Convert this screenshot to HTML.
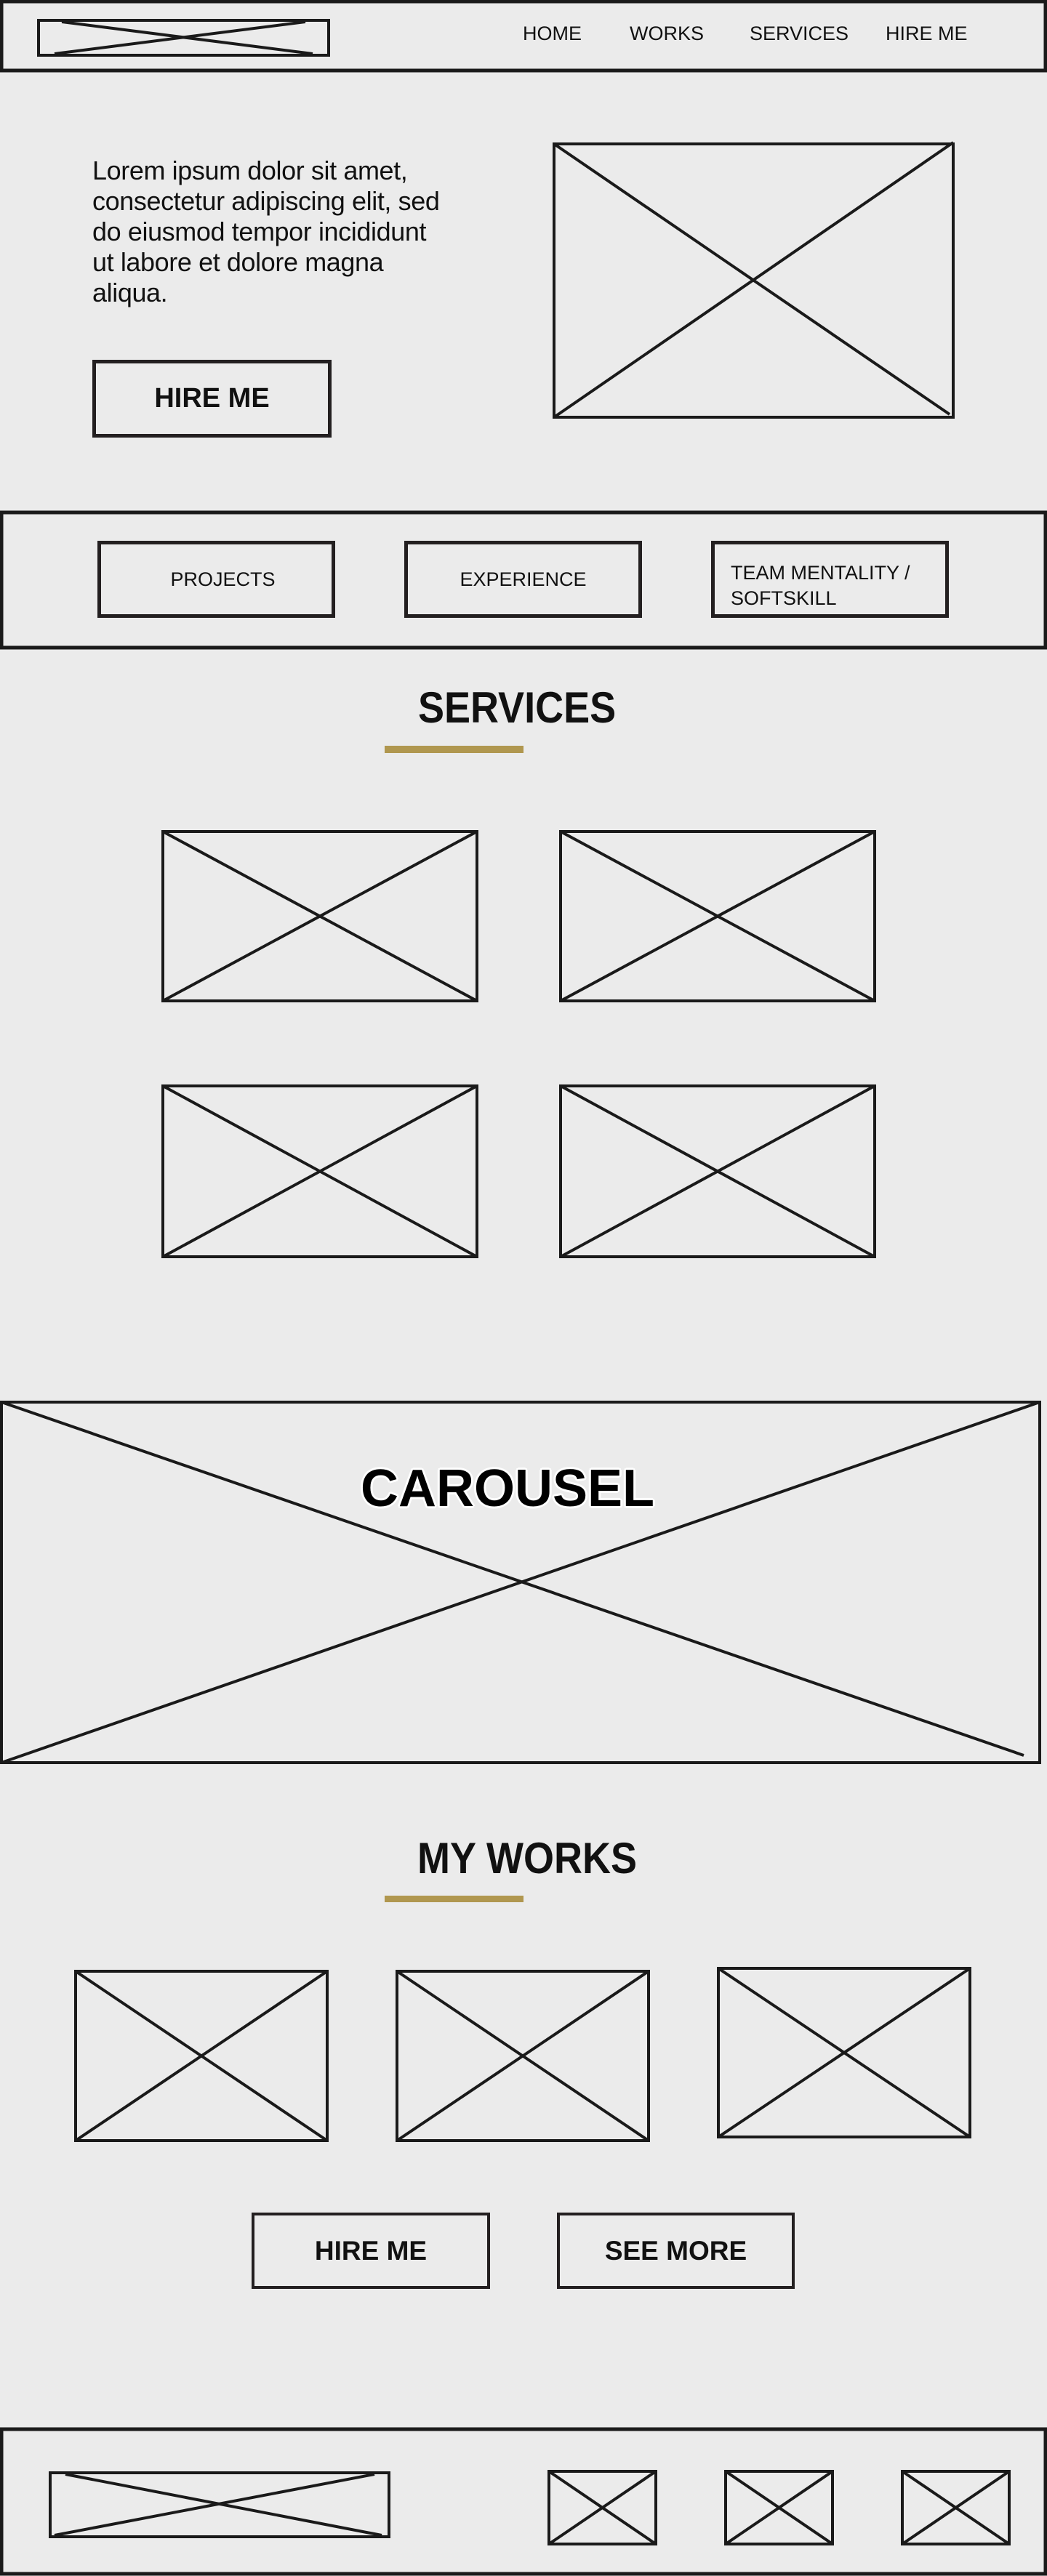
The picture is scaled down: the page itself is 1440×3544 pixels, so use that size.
<!DOCTYPE html>
<html><head><meta charset="utf-8"><style>
html,body{margin:0;padding:0}
body{width:1440px;height:3544px;background:#ebebeb;position:relative;overflow:hidden;font-family:"Liberation Sans",sans-serif;color:#111}
.a{position:absolute;margin:0}
.box{position:absolute;box-sizing:border-box;border:5px solid #231f20}
.t{position:absolute;white-space:nowrap;font-size:27px;line-height:1}
.b{font-weight:bold}
svg{position:absolute;left:0;top:0}
</style></head><body>
<svg width="1440" height="3544" stroke="#1a1a1a" fill="none">
<g stroke-width="5">
<rect x="2" y="2" width="1436" height="95"/>
<rect x="2" y="705" width="1436" height="186"/>
<rect x="2" y="1929" width="1428" height="496" stroke-width="4"/>
<rect x="2" y="3342" width="1436" height="199"/>
</g>
<g stroke-width="4">
<rect x="53" y="28" width="399" height="48"/>
<line x1="85" y1="30" x2="430" y2="74"/><line x1="75" y1="74" x2="420" y2="30"/>
<rect x="762" y="198" width="549" height="376"/>
<line x1="762" y1="198" x2="1306" y2="570"/><line x1="762" y1="574" x2="1311" y2="196"/>
<rect x="224" y="1144" width="432" height="233"/>
<line x1="224" y1="1144" x2="656" y2="1377"/><line x1="224" y1="1377" x2="656" y2="1144"/>
<rect x="771" y="1144" width="432" height="233"/>
<line x1="771" y1="1144" x2="1203" y2="1377"/><line x1="771" y1="1377" x2="1203" y2="1144"/>
<rect x="224" y="1494" width="432" height="235"/>
<line x1="224" y1="1494" x2="656" y2="1729"/><line x1="224" y1="1729" x2="656" y2="1494"/>
<rect x="771" y="1494" width="432" height="235"/>
<line x1="771" y1="1494" x2="1203" y2="1729"/><line x1="771" y1="1729" x2="1203" y2="1494"/>
<line x1="2" y1="1929" x2="1408" y2="2415"/><line x1="2" y1="2425" x2="1430" y2="1929"/>
<rect x="104" y="2712" width="346" height="233"/>
<line x1="104" y1="2712" x2="450" y2="2945"/><line x1="104" y1="2945" x2="450" y2="2712"/>
<rect x="546" y="2712" width="346" height="233"/>
<line x1="546" y1="2712" x2="892" y2="2945"/><line x1="546" y1="2945" x2="892" y2="2712"/>
<rect x="988" y="2708" width="346" height="232"/>
<line x1="988" y1="2708" x2="1334" y2="2940"/><line x1="988" y1="2940" x2="1334" y2="2708"/>
<rect x="69" y="3402" width="466" height="88"/>
<line x1="90" y1="3404" x2="525" y2="3488"/><line x1="75" y1="3488" x2="515" y2="3404"/>
<rect x="755" y="3400" width="147" height="100"/>
<line x1="755" y1="3400" x2="902" y2="3500"/><line x1="755" y1="3500" x2="902" y2="3400"/>
<rect x="998" y="3400" width="147" height="100"/>
<line x1="998" y1="3400" x2="1145" y2="3500"/><line x1="998" y1="3500" x2="1145" y2="3400"/>
<rect x="1241" y="3400" width="147" height="100"/>
<line x1="1241" y1="3400" x2="1388" y2="3500"/><line x1="1241" y1="3500" x2="1388" y2="3400"/>
</g>
</svg>

<div class="t" style="left:719px;top:33px">HOME</div>
<div class="t" style="left:866px;top:33px">WORKS</div>
<div class="t" style="left:1031px;top:33px">SERVICES</div>
<div class="t" style="left:1218px;top:33px">HIRE ME</div>

<p class="a" style="left:127px;top:214px;font-size:36px;line-height:42px;width:600px;letter-spacing:-0.4px">Lorem ipsum dolor sit amet,<br>consectetur adipiscing elit, sed<br>do eiusmod tempor incididunt<br>ut labore et dolore magna<br>aliqua.</p>

<div class="box" style="left:127px;top:495px;width:329px;height:107px;display:flex;align-items:center;justify-content:center;font-weight:bold;font-size:38px">HIRE ME</div>

<div class="box" style="left:134px;top:744px;width:327px;height:106px;display:flex;align-items:center;justify-content:center;font-size:27px;padding-left:18px">PROJECTS</div>
<div class="box" style="left:556px;top:744px;width:327px;height:106px;display:flex;align-items:center;justify-content:center;font-size:27px">EXPERIENCE</div>
<div class="box" style="left:978px;top:744px;width:327px;height:106px;font-size:27px;line-height:35px;padding:22px 0 0 22px">TEAM MENTALITY /<br>SOFTSKILL</div>

<div class="t b" style="left:575px;top:944px;font-size:60px;transform:scaleX(0.9);transform-origin:left top">SERVICES</div>
<div class="a" style="left:529px;top:1026px;width:191px;height:10px;background:#b0974f"></div>

<div class="t b" style="left:496px;top:2012px;font-size:72px;color:#000;text-shadow:-3px 0 #fff,3px 0 #fff,0 -3px #fff,0 3px #fff,-2px -2px #fff,2px 2px #fff,-2px 2px #fff,2px -2px #fff">CAROUSEL</div>

<div class="t b" style="left:574px;top:2527px;font-size:60px;transform:scaleX(0.9);transform-origin:left top">MY WORKS</div>
<div class="a" style="left:529px;top:2608px;width:191px;height:9px;background:#b0974f"></div>

<div class="box" style="left:346px;top:3044px;width:328px;height:105px;display:flex;align-items:center;justify-content:center;font-weight:bold;font-size:37px;border-width:4px">HIRE ME</div>
<div class="box" style="left:766px;top:3044px;width:327px;height:105px;display:flex;align-items:center;justify-content:center;font-weight:bold;font-size:37px;border-width:4px">SEE MORE</div>
</body></html>
